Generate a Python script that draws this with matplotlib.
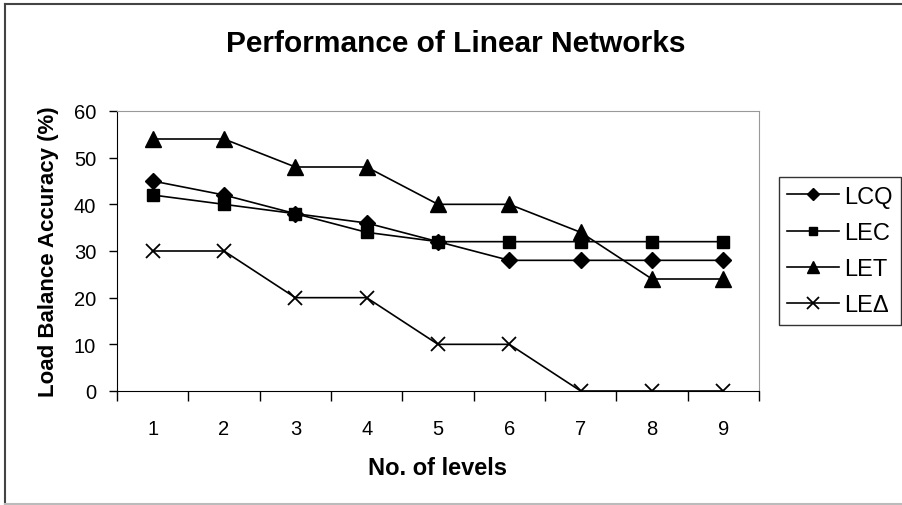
import matplotlib.pyplot as plt
import numpy as np
from matplotlib.lines import Line2D

plt.rcParams['font.family'] = ['Liberation Sans', 'DejaVu Sans']

# Daten
levels = [1, 2, 3, 4, 5, 6, 7, 8, 9]
lcq = [45, 42, 38, 36, 32, 28, 28, 28, 28]
lec = [42, 40, 38, 34, 32, 32, 32, 32, 32]
let = [54, 54, 48, 48, 40, 40, 34, 24, 24]
led = [30, 30, 20, 20, 10, 10, 0, 0, 0]

fig = plt.figure(figsize=(9.03, 5.06), dpi=100)
ax = fig.add_axes([117/903, 114/506, (759-117)/903, (392-112)/506])

ax.plot(levels, lcq, 'k-', marker='D', markersize=8, lw=1.2, label='LCQ')
ax.plot(levels, lec, 'k-', marker='s', markersize=8, lw=1.2, label='LEC')
ax.plot(levels, let, 'k-', marker='^', markersize=11, lw=1.2, label='LET')
ax.plot(levels, led, 'k-', marker='x', markersize=10.5, mew=1.3, lw=1.2, label='LE\u0394')

ax.set_xlim(0.5, 9.5)
ax.set_ylim(0, 60)
ax.set_yticks(np.arange(0, 61, 10))
ax.set_xticks(levels)
ax.set_xticks(np.arange(0.5, 10, 1), minor=True)
ax.tick_params(axis='x', which='major', length=0, pad=20, labelsize=14.5)
ax.tick_params(axis='x', which='minor', length=7, direction='out', width=1)
ax.tick_params(axis='y', length=6, direction='out', width=1, labelsize=14.5, pad=9)

for s in ['top', 'right']:
    ax.spines[s].set_color('#999999')
for s in ['left', 'bottom']:
    ax.spines[s].set_color('black')

# Titel mittig ueber der ganzen Grafik
fig.text(456/903, 1 - 44/506, 'Performance of Linear Networks', fontsize=21.5,
         fontweight='bold', ha='center', va='center')
ax.set_xlabel('No. of levels', fontsize=17, fontweight='bold', labelpad=13)
ax.set_ylabel('Load Balance Accuracy (%)', fontsize=16, fontweight='bold', labelpad=11)

leg = ax.legend(loc='center left', bbox_to_anchor=(1.031, 0.5), frameon=True,
                fancybox=False, edgecolor='black', fontsize=17, markerscale=0.8,
                handlelength=2.2, handletextpad=0.2, borderpad=0.35,
                labelspacing=0.6, borderaxespad=0)
leg.get_frame().set_linewidth(1)

# Rahmen um die ganze Grafik (rechte Kante liegt ausserhalb)
fig.add_artist(Line2D([5/903, 5/903], [1/506, 501/506], transform=fig.transFigure,
                      color='#444444', lw=1.5))
fig.add_artist(Line2D([5/903, 1], [501/506, 501/506], transform=fig.transFigure,
                      color='#444444', lw=1.5))
fig.add_artist(Line2D([5/903, 1], [1.5/506, 1.5/506], transform=fig.transFigure,
                      color='#bbbbbb', lw=1.5))

plt.savefig('out.png', dpi=100)
